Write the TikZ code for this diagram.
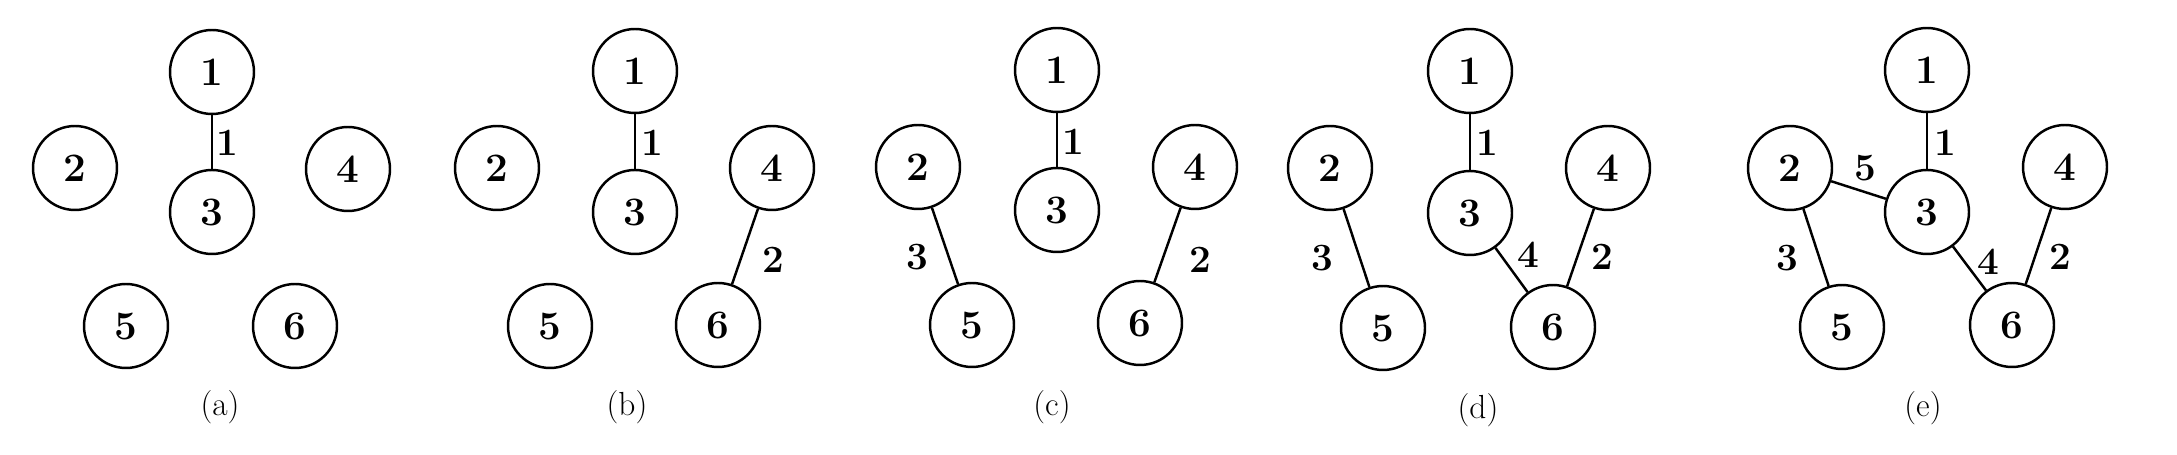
\documentclass[tikz,border=0pt]{standalone}
\begin{document}
\begin{tikzpicture}[x=0.02cm,y=-0.02cm,
  vtx/.style={circle,draw,line width=1.4pt,minimum size=1.68cm,inner sep=0pt,font=\fontsize{23}{25}\selectfont\bfseries},
  lbl/.style={inner sep=0pt,font=\fontsize{22}{24}\selectfont\bfseries},
  captxt/.style={inner sep=0pt,font=\fontsize{19}{21}\selectfont},
  con/.style={line width=1.4pt}]
\useasboundingbox (0,0) rectangle (2177,455);
% (a)
\node[vtx] (a1) at (212,72) {1};
\node[vtx] (a2) at (75,168) {2};
\node[vtx] (a3) at (212,212) {3};
\node[vtx] (a4) at (348,169) {4};
\node[vtx] (a5) at (126,326) {5};
\node[vtx] (a6) at (295,326) {6};
\draw[con] (a1) -- (a3);
\node[lbl] (la13) at (227,143) {1};
\node[captxt] (ca) at (220,407) {(a)};
% (b)
\node[vtx] (b1) at (635,71) {1};
\node[vtx] (b2) at (497,168) {2};
\node[vtx] (b3) at (635,212) {3};
\node[vtx] (b4) at (772,168) {4};
\node[vtx] (b5) at (550,326) {5};
\node[vtx] (b6) at (718,325) {6};
\draw[con] (b1) -- (b3);
\draw[con] (b4) -- (b6);
\node[lbl] (lb13) at (652,143) {1};
\node[lbl] (lb46) at (773,260) {2};
\node[captxt] (cb) at (627,407) {(b)};
% (c)
\node[vtx] (c1) at (1057,70) {1};
\node[vtx] (c2) at (918,167) {2};
\node[vtx] (c3) at (1057,210) {3};
\node[vtx] (c4) at (1195,167) {4};
\node[vtx] (c5) at (972,325) {5};
\node[vtx] (c6) at (1140,323) {6};
\draw[con] (c1) -- (c3);
\draw[con] (c4) -- (c6);
\draw[con] (c2) -- (c5);
\node[lbl] (lc13) at (1073,142) {1};
\node[lbl] (lc46) at (1200,260) {2};
\node[lbl] (lc25) at (917,257) {3};
\node[captxt] (cc) at (1052,407) {(c)};
% (d)
\node[vtx] (d1) at (1470,71) {1};
\node[vtx] (d2) at (1330,168) {2};
\node[vtx] (d3) at (1470,213) {3};
\node[vtx] (d4) at (1608,168) {4};
\node[vtx] (d5) at (1383,328) {5};
\node[vtx] (d6) at (1553,327) {6};
\draw[con] (d1) -- (d3);
\draw[con] (d4) -- (d6);
\draw[con] (d2) -- (d5);
\draw[con] (d3) -- (d6);
\node[lbl] (ld13) at (1487,143) {1};
\node[lbl] (ld46) at (1602,257) {2};
\node[lbl] (ld25) at (1322,258) {3};
\node[lbl] (ld36) at (1528,255) {4};
\node[captxt] (cd) at (1478,410) {(d)};
% (e)
\node[vtx] (e1) at (1927,70) {1};
\node[vtx] (e2) at (1790,168) {2};
\node[vtx] (e3) at (1927,212) {3};
\node[vtx] (e4) at (2065,167) {4};
\node[vtx] (e5) at (1842,327) {5};
\node[vtx] (e6) at (2012,325) {6};
\draw[con] (e1) -- (e3);
\draw[con] (e4) -- (e6);
\draw[con] (e2) -- (e5);
\draw[con] (e3) -- (e6);
\draw[con] (e2) -- (e3);
\node[lbl] (le13) at (1945,143) {1};
\node[lbl] (le46) at (2060,257) {2};
\node[lbl] (le25) at (1787,258) {3};
\node[lbl] (le36) at (1988,262) {4};
\node[lbl] (le23) at (1865,168) {5};
\node[captxt] (ce) at (1923,408) {(e)};
\end{tikzpicture}
\end{document}
